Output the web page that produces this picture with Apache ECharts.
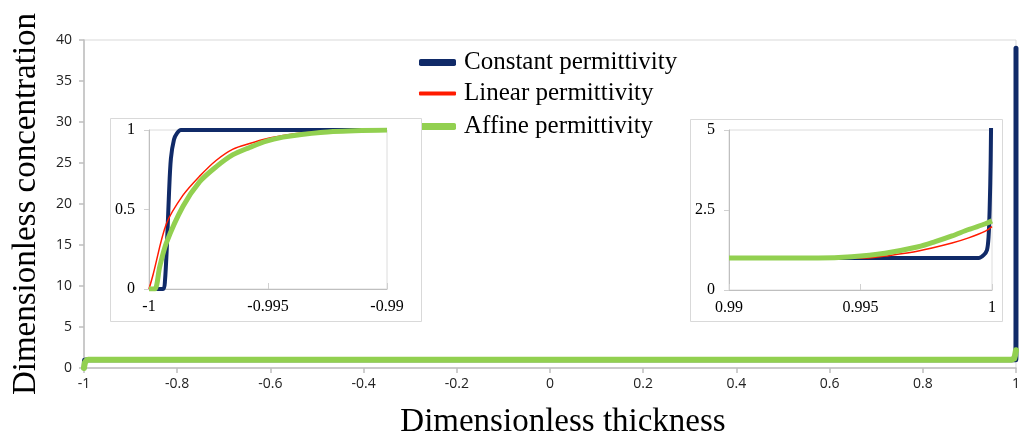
<!DOCTYPE html>
<html>
<head>
<meta charset="utf-8">
<script src="https://cdn.jsdelivr.net/npm/echarts@6/dist/echarts.min.js"></script>
<style>html,body{margin:0;padding:0;background:#fff;}#c{width:1023px;height:447px;}</style>
</head>
<body>
<div id="c"></div>
<script>
// ---- data ----
const seriesNames = ['Constant permittivity', 'Linear permittivity', 'Affine permittivity'];

// left edge (x from -1 to -0.99)
const constLeftX = [-1, -0.99941, -0.99933, -0.99924, -0.99916, -0.99908, -0.99895, -0.99882, -0.99866, -0.99];
const constLeftY = [0, 0, 0.05, 0.3, 0.6, 0.82, 0.94, 0.98, 1, 1];
const linLeftX = [-1, -0.99983, -0.99927, -0.99857, -0.99787, -0.99717, -0.99647, -0.99577, -0.99507, -0.99437, -0.99367, -0.99227, -0.99];
const linLeftY = [0, 0.09, 0.41, 0.59, 0.71, 0.81, 0.88, 0.915, 0.945, 0.965, 0.98, 0.993, 1];
const affLeftX = [-1, -0.99976, -0.99955, -0.99927, -0.99857, -0.99787, -0.99717, -0.99647, -0.99577, -0.99507, -0.99437, -0.99367, -0.99227, -0.99];
const affLeftY = [0, 0, 0.14, 0.29, 0.52, 0.675, 0.77, 0.845, 0.89, 0.93, 0.955, 0.97, 0.99, 1];

// right edge (x from 0.99 to 1)
const constRightX = [0.99, 0.99949, 0.99968, 0.99981, 0.99987, 0.99991, 0.99995, 0.99997, 1];
const constRightY = [1, 1, 1.09, 1.25, 1.67, 2.5, 4.06, 6, 39];
const linRightX = [0.99, 0.9953, 0.99593, 0.9972, 0.99848, 0.99911, 0.99975, 1];
const linRightY = [1, 1.0, 1.06, 1.22, 1.47, 1.63, 1.84, 1.98];
const affRightX = [0.99, 0.99339, 0.99466, 0.99593, 0.9972, 0.99784, 0.99848, 0.99911, 0.99975, 1];
const affRightY = [1, 1.0, 1.04, 1.15, 1.35, 1.51, 1.69, 1.89, 2.07, 2.16];

// axis ranges
const mainX = {min: -1, max: 1, interval: 0.2};
const mainY = {min: 0, max: 40, interval: 5};
const leftInsetX = {min: -1, max: -0.99, interval: 0.005};
const leftInsetY = {min: 0, max: 1, interval: 0.5};
const rightInsetX = {min: 0.99, max: 1, interval: 0.005};
const rightInsetY = {min: 0, max: 5, interval: 2.5};

// ---- build ----
function zip(xs, ys) { return xs.map((x, i) => [x, ys[i]]); }
const colors = ['#102a68', '#ff1a00', '#92d050'];
const widthsMain = [5, 1.6, 6];
const widthsInset = [4, 1.5, 5];

const leftSets = [zip(constLeftX, constLeftY), zip(linLeftX, linLeftY), zip(affLeftX, affLeftY)];
const rightSets = [zip(constRightX, constRightY), zip(linRightX, linRightY), zip(affRightX, affRightY)];

const serifLbl = {fontFamily: 'Liberation Serif', fontSize: 16, color: '#000'};
const sansLbl = {fontFamily: 'Open Sans', fontSize: 14, color: '#222'};
const greyAxis = {lineStyle: {color: '#bfbfbf', width: 1.5}};

function fmt(v) { return String(Math.round(v * 10000) / 10000); }

const series = [];
[0, 2, 1].forEach(i => {
  series.push({
    name: seriesNames[i], type: 'line', xAxisIndex: 0, yAxisIndex: 0,
    data: leftSets[i].concat(rightSets[i]), showSymbol: false, symbol: 'none',
    lineStyle: {color: colors[i], width: widthsMain[i], cap: 'round', join: 'round'},
    itemStyle: {color: colors[i]}, z: 2 + i, animation: false
  });
});
[0, 2, 1].forEach(i => {
  series.push({
    name: seriesNames[i], type: 'line', xAxisIndex: 1, yAxisIndex: 1,
    data: leftSets[i], showSymbol: false, symbol: 'none', clip: true,
    smooth: 0.3,
    lineStyle: {color: colors[i], width: widthsInset[i], join: 'round'},
    itemStyle: {color: colors[i]}, z: 12 + i, animation: false
  });
  series.push({
    name: seriesNames[i], type: 'line', xAxisIndex: 2, yAxisIndex: 2,
    data: rightSets[i], showSymbol: false, symbol: 'none', clip: true,
    smooth: 0.3,
    lineStyle: {color: colors[i], width: widthsInset[i], join: 'round'},
    itemStyle: {color: colors[i]}, z: 12 + i, animation: false
  });
});

const legendTops = [50, 81, 114];
const legendH = [7, 4, 7];
const legends = seriesNames.map((n, i) => ({
  data: [{name: n, icon: 'roundRect', itemStyle: {color: colors[i]}}],
  left: 419, top: legendTops[i], itemWidth: 37, itemHeight: legendH[i],
  padding: 0, selectedMode: false,
  textStyle: {fontFamily: 'Liberation Serif', fontSize: 25, color: '#000', padding: [0, 0, 0, 3]}
}));

const option = {
  animation: false,
  backgroundColor: '#fff',
  legend: legends,
  graphic: [
    {type: 'rect', left: 110, top: 118, shape: {width: 311, height: 203}, style: {fill: '#fff', stroke: '#d9d9d9', lineWidth: 1}, z: 5},
    {type: 'rect', left: 690, top: 119, shape: {width: 312, height: 202}, style: {fill: '#fff', stroke: '#d9d9d9', lineWidth: 1}, z: 5}
  ],
  grid: [
    {left: 84, right: 5, top: 40, bottom: 79, show: true, borderColor: '#d9d9d9', borderWidth: 1},
    {left: 149, top: 130, width: 238, height: 159, show: true, borderColor: '#dcdcdc', borderWidth: 1, z: 10},
    {left: 729, top: 130, width: 263, height: 160, show: true, borderColor: '#dcdcdc', borderWidth: 1, z: 10}
  ],
  xAxis: [
    {type: 'value', gridIndex: 0, min: mainX.min, max: mainX.max, interval: mainX.interval,
     name: 'Dimensionless thickness', nameLocation: 'middle', nameGap: 38,
     nameTextStyle: {fontFamily: 'Liberation Serif', fontSize: 33, color: '#000', padding: [0, 0, 0, 26]},
     axisLine: greyAxis, axisTick: {show: true, length: 5, lineStyle: {color: '#bfbfbf', width: 1.5}},
     axisLabel: Object.assign({margin: 9, formatter: fmt}, sansLbl), splitLine: {show: false}},
    {type: 'value', gridIndex: 1, min: leftInsetX.min, max: leftInsetX.max, interval: leftInsetX.interval,
     axisLine: {onZero: false, lineStyle: {color: '#bfbfbf', width: 1}}, axisTick: {show: true, inside: true, length: 6, lineStyle: {color: '#d0d0d0'}},
     axisLabel: Object.assign({margin: 10, formatter: fmt}, serifLbl), splitLine: {show: false}, z: 11},
    {type: 'value', gridIndex: 2, min: rightInsetX.min, max: rightInsetX.max, interval: rightInsetX.interval,
     axisLine: {onZero: false, lineStyle: {color: '#bfbfbf', width: 1}}, axisTick: {show: true, inside: true, length: 6, lineStyle: {color: '#d0d0d0'}},
     axisLabel: Object.assign({margin: 10, formatter: fmt}, serifLbl), splitLine: {show: false}, z: 11}
  ],
  yAxis: [
    {type: 'value', gridIndex: 0, min: mainY.min, max: mainY.max, interval: mainY.interval,
     name: 'Dimensionless concentration', nameLocation: 'middle', nameGap: 41,
     nameTextStyle: {fontFamily: 'Liberation Serif', fontSize: 33, color: '#000'},
     axisLine: {show: true, onZero: false, lineStyle: {color: '#bfbfbf', width: 1.5}}, axisTick: {show: true, length: 5, lineStyle: {color: '#bfbfbf', width: 1.5}},
     axisLabel: Object.assign({margin: 12}, sansLbl), splitLine: {show: false}},
    {type: 'value', gridIndex: 1, min: leftInsetY.min, max: leftInsetY.max, interval: leftInsetY.interval,
     axisLine: {show: true, onZero: false, lineStyle: {color: '#bfbfbf', width: 1}}, axisTick: {show: true, length: 5, lineStyle: {color: '#d0d0d0'}},
     axisLabel: Object.assign({margin: 14, formatter: fmt}, serifLbl), splitLine: {show: false}, z: 11},
    {type: 'value', gridIndex: 2, min: rightInsetY.min, max: rightInsetY.max, interval: rightInsetY.interval,
     axisLine: {show: true, onZero: false, lineStyle: {color: '#bfbfbf', width: 1}}, axisTick: {show: true, length: 5, lineStyle: {color: '#d0d0d0'}},
     axisLabel: Object.assign({margin: 14, formatter: fmt}, serifLbl), splitLine: {show: false}, z: 11}
  ],
  series: series
};

const chart = echarts.init(document.getElementById('c'), null, {renderer: 'canvas'});
chart.setOption(option);
</script>
</body>
</html>
